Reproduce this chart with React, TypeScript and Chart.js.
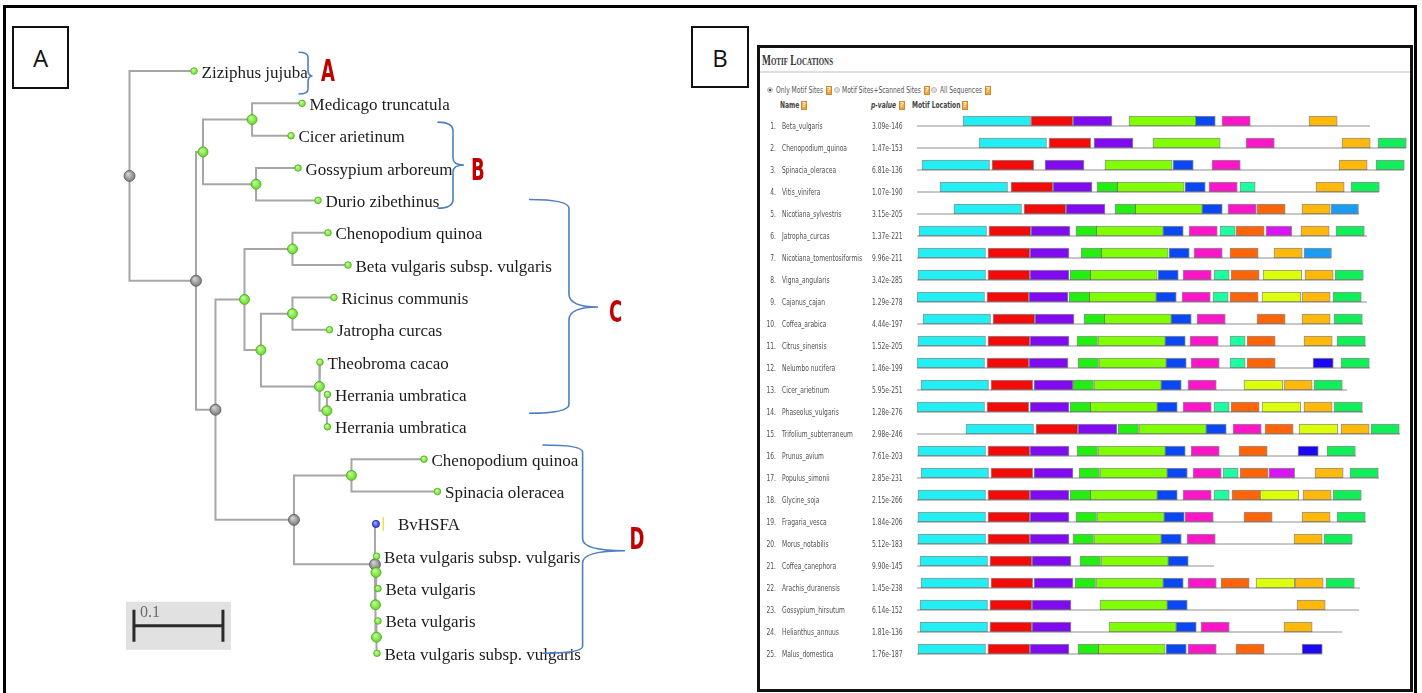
import React, { useEffect, useRef } from "react";
import { Chart, registerables } from "chart.js";
Chart.register(...registerables);

// ================= Panel A : phylogenetic tree =================
const nodeNames = ["", "Ziziphus jujuba", "", "", "", "Medicago truncatula", "Cicer arietinum", "", "Gossypium arboreum", "Durio zibethinus", "", "", "", "Chenopodium quinoa", "Beta vulgaris subsp. vulgaris", "", "", "Ricinus communis", "Jatropha curcas", "", "Theobroma cacao", "", "Herrania umbratica", "Herrania umbratica", "", "", "Chenopodium quinoa", "Spinacia oleracea", "", "BvHSFA", "", "", "Beta vulgaris subsp. vulgaris", "Beta vulgaris", "", "Beta vulgaris", "Beta vulgaris subsp. vulgaris"];
const nodeParents = [-1, 0, 0, 2, 3, 4, 4, 3, 7, 7, 2, 10, 11, 12, 12, 11, 15, 16, 16, 15, 19, 19, 21, 21, 10, 24, 25, 25, 24, 28, 28, 30, 31, 31, 30, 34, 34];
const branchLengths = [0, 0.0725, 0.0747, 0.0079, 0.0551, 0.0562, 0.0438, 0.0596, 0.0472, 0.0697, 0.0219, 0.0326, 0.0539, 0.0399, 0.0624, 0.0185, 0.0354, 0.0466, 0.0416, 0.0657, 0.0006, 0.0084, 0.0006, 0.0006, 0.0882, 0.0646, 0.0815, 0.0966, 0.091, 0.0011, 0.0006, 0.0006, 0.0006, 0.0022, 0.0011, 0.0017, 0.0006];
const greyNodes = [0, 2, 10, 24, 28];
const queryNode = 29;
const scaleBarLength = 0.1;
const scaleBarLabel = "0.1";

// bracketed groups (leaf-index span, tip position)
const groupLetters = ["A", "B", "C", "D"];
const groupFrom = [-0.58, 1.58, 3.97, 11.56];
const groupTo = [0.71, 4.24, 10.58, 18.0];
const groupTip = [0.155, 2.906, 7.295, 14.828];

// brace geometry (annotation styling, tree x units / px)
const braceGeom = [
  { xe: 0.1899, xs: 0.2006, xt: 0.2056, rv: 5, rv2: 6, ldx: 8.5, ldy: -3.5 },
  { xe: 0.3461, xs: 0.3635, xt: 0.3758, rv: 9, rv2: 7, ldx: 7, ldy: 6 },
  { xe: 0.4489, xs: 0.4938, xt: 0.5264, rv: 9, rv2: 13, ldx: 11, ldy: 6.5 },
  { xe: 0.4639, xs: 0.5091, xt: 0.5567, rv: 7, rv2: 12, ldx: 4.5, ldy: -10 },
];

// ================= Panel B : motif locations =================
const rowNames = ["Beta_vulgaris", "Chenopodium_quinoa", "Spinacia_oleracea", "Vitis_vinifera", "Nicotiana_sylvestris", "Jatropha_curcas", "Nicotiana_tomentosiformis", "Vigna_angularis", "Cajanus_cajan", "Coffea_arabica", "Citrus_sinensis", "Nelumbo nucifera", "Cicer_arietinum", "Phaseolus_vulgaris", "Trifolium_subterraneum", "Prunus_avium", "Populus_simonii", "Glycine_soja", "Fragaria_vesca", "Morus_notabilis", "Coffea_canephora", "Arachis_duranensis", "Gossypium_hirsutum", "Helianthus_annuus", "Malus_domestica"];
const pValues = ["3.09e-146", "1.47e-153", "6.81e-136", "1.07e-190", "3.15e-205", "1.37e-221", "9.96e-211", "3.42e-285", "1.29e-278", "4.44e-197", "1.52e-205", "1.46e-199", "5.95e-251", "1.28e-276", "2.98e-246", "7.61e-203", "2.85e-231", "2.15e-266", "1.84e-206", "5.12e-183", "9.90e-145", "1.45e-238", "6.14e-152", "1.81e-136", "1.76e-187"];
const seqLengths = [453, 489, 487, 462, 442, 450, 414, 446, 450, 446, 449, 453, 430, 446, 483, 439, 462, 444, 449, 435, 297, 443, 442, 425, 405];
const xMaxPos = 492;

const motifWidths = [67.5, 41.7, 39, 20.5, 67.2, 20.3, 28.3, 15.2, 28.2, 38.8, 28.2, 28.3, 27.5, 25.7, 20.3];
const _ = null;
const startsCyan = [46, 62, 5, 23, 37, 2, 1, 1, 0, 6, 1, 0, 4, 0, 49, 1, 4, 1, 1, 1, 3, 4, 3, 3, 1];
const startsRed = [114, 132, 75, 94, 107, 72, 71, 71, 70, 76, 71, 70, 74, 70, 119, 71, 74, 71, 71, 71, 73, 74, 73, 73, 71];
const startsPurple = [156, 177, 128, 136, 149, 114, 113, 113, 112, 118, 113, 112, 117, 113, 161, 113, 117, 113, 113, 113, 115, 117, 115, 115, 113];
const startsGreen = [_, _, _, 180, 198, 159, 164, 153, 152, 167, 160, 161, 156, 153, 201, 160, 162, 153, 159, 156, 163, 158, _, _, 161];
const startsLime = [212, 236, 188, 200, 218, 179, 184, 173, 172, 187, 181, 182, 177, 173, 222, 181, 183, 173, 180, 177, 184, 179, 183, 192, 181];
const startsBlue = [278, _, 256, 268, 285, 246, 252, 241, 239, 254, 248, 249, 244, 240, 289, 248, 250, 240, 247, 244, 251, 246, 250, 259, 249];
const startsMagenta = [305, 329, 295, 292, 311, 272, 277, 266, 265, 280, 273, 274, 271, 266, 316, 274, 276, 266, 268, 270, _, 271, _, 284, 271];
const startsAqua = [_, _, _, 323, _, 303, _, 297, 296, _, 313, 313, _, 297, _, _, 306, 297, _, _, _, _, _, _, _];
const startsOrange = [_, _, _, _, 340, 319, 313, 314, 313, 340, 330, 330, _, 314, 348, 322, 323, 315, 327, _, _, 304, _, _, 319];
const startsYellow = [_, _, _, _, _, _, _, 346, 345, _, _, _, 327, 345, 382, _, _, 343, _, _, _, 339, _, _, _];
const startsGold = [392, 425, 422, 399, 385, 384, 357, 388, 385, 385, 387, _, 367, 387, 424, _, 398, 386, 385, 377, _, 378, 380, 367, _];
const startsSpring = [_, 461, 459, 434, _, 419, _, 418, 416, 417, 420, 424, 397, 417, 454, 410, 433, 416, 420, 407, _, 409, _, _, _];
const startsDodger = [_, _, _, _, 414, _, 387, _, _, _, _, _, _, _, _, _, _, _, _, _, _, _, _, _, _];
const startsViolet = [_, _, _, _, _, 349, _, _, _, _, _, _, _, _, _, _, 352, _, _, _, _, _, _, _, _];
const startsNavy = [_, _, _, _, _, _, _, _, _, _, _, 396, _, _, _, 381, _, _, _, _, _, _, _, _, 385];

const motifStarts = [startsCyan, startsRed, startsPurple, startsGreen, startsLime, startsBlue, startsMagenta, startsAqua, startsOrange, startsYellow, startsGold, startsSpring, startsDodger, startsViolet, startsNavy];
const motifColors = ["#22eff4", "#f50a0a", "#800af2", "#22ee10", "#80ff00", "#0a48f5", "#fb16c8", "#1cffa0", "#ff6408", "#ddff0a", "#ffb90a", "#10ee5a", "#1a9cf5", "#d914f5", "#1a08f5"];

// ---------------- tree layout ----------------
function layoutTree() {
  const n = nodeParents.length;
  const children: number[][] = Array.from({ length: n }, () => []);
  nodeParents.forEach((p, i) => { if (p >= 0) children[p].push(i); });
  const xs = new Array(n).fill(0);
  const ys = new Array(n).fill(0);
  let leaf = 0;
  const visit = (i: number) => {
    if (nodeParents[i] >= 0) xs[i] = xs[nodeParents[i]] + branchLengths[i];
    if (children[i].length === 0) { ys[i] = leaf++; return; }
    children[i].forEach(visit);
    const c = children[i];
    ys[i] = (ys[c[0]] + ys[c[c.length - 1]]) / 2;
  };
  visit(0);
  return { children, xs, ys, leafCount: leaf };
}

function sphere(base: string, light: string, r: number) {
  return (c: any) => {
    const chart = c.chart;
    const p = c.parsed;
    if (!p || !chart.scales || !chart.scales.x || !chart.chartArea) return base;
    const x = chart.scales.x.getPixelForValue(p.x);
    const y = chart.scales.y.getPixelForValue(p.y);
    if (!isFinite(x) || !isFinite(y)) return base;
    const g = chart.ctx.createRadialGradient(x - r * 0.3, y - r * 0.4, 0.3, x, y, r);
    g.addColorStop(0, light);
    g.addColorStop(1, base);
    return g;
  };
}

function drawBrace(ctx: CanvasRenderingContext2D, xe: number, xs: number, xt: number, yt: number, ym: number, yb: number, rv: number, rv2: number) {
  ctx.beginPath();
  ctx.moveTo(xe, yt);
  ctx.quadraticCurveTo(xs, yt, xs, yt + rv);
  ctx.lineTo(xs, ym - rv2);
  ctx.quadraticCurveTo(xs, ym, xt, ym);
  ctx.quadraticCurveTo(xs, ym, xs, ym + rv2);
  ctx.lineTo(xs, yb - rv);
  ctx.quadraticCurveTo(xs, yb, xe, yb);
  ctx.stroke();
}

function treeConfig(): any {
  const { children, xs, ys, leafCount } = layoutTree();
  const n = nodeParents.length;
  const internal: number[] = [];
  const leaves: number[] = [];
  for (let i = 0; i < n; i++) (children[i].length ? internal : leaves).push(i);

  const branchSets = internal.map((i) => {
    const c = children[i];
    const a = c[0], b = c[c.length - 1];
    return {
      data: [{ x: xs[a], y: ys[a] }, { x: xs[i], y: ys[a] }, { x: xs[i], y: ys[b] }, { x: xs[b], y: ys[b] }],
      showLine: true, borderColor: "#a6a6a6", borderWidth: 2, pointRadius: 0, tension: 0,
      borderJoinStyle: "miter", order: 5, clip: false,
    };
  });
  const pt = (ids: number[]) => ids.map((i) => ({ x: xs[i], y: ys[i] }));
  const tipIds = leaves.filter((i) => i !== queryNode);
  const greenIds = internal.filter((i) => !greyNodes.includes(i));
  const pointSets = [
    { data: pt([queryNode]), pointRadius: 3.6, backgroundColor: sphere("#2a3cf0", "#9fb0ff", 3.6), borderColor: "#1b2aa8", borderWidth: 0.8, order: 0, clip: false },
    { data: pt(tipIds), pointRadius: 3.3, backgroundColor: sphere("#6fdc2e", "#c8ff9a", 3.3), borderColor: "#4caf22", borderWidth: 0.8, order: 1, clip: false },
    { data: pt(greenIds), pointRadius: 5, backgroundColor: sphere("#62d826", "#c9ff9c", 5), borderColor: "#45a91b", borderWidth: 0.8, order: 1, clip: false },
    { data: pt(greyNodes), pointRadius: 5.5, backgroundColor: sphere("#7e7e7e", "#d6d6d6", 5.5), borderColor: "#555", borderWidth: 0.8, order: 1, clip: false },
  ];

  const treePlugin = {
    id: "treeText",
    afterDatasetsDraw(chart: any) {
      const { ctx } = chart;
      const X = chart.scales.x, Y = chart.scales.y;
      ctx.save();
      // leaf labels
      ctx.font = '17px "Liberation Serif", serif';
      ctx.fillStyle = "#1c1c1c";
      ctx.textAlign = "left";
      ctx.textBaseline = "alphabetic";
      leaves.forEach((i) => {
        const px = X.getPixelForValue(xs[i]);
        const py = Y.getPixelForValue(ys[i]);
        const off = i === queryNode ? 22 : 7.5;
        ctx.fillText(nodeNames[i], px + off, py + 6.5);
        if (i === queryNode) {
          ctx.fillStyle = "#f3dc4a";
          ctx.fillRect(px + 6.5, py - 7, 1.5, 14);
          ctx.fillStyle = "#1c1c1c";
        }
      });
      // braces and group letters
      groupLetters.forEach((L, k) => {
        const g = braceGeom[k];
        const yt = Y.getPixelForValue(groupFrom[k]);
        const yb = Y.getPixelForValue(groupTo[k]);
        const ym = Y.getPixelForValue(groupTip[k]);
        const xe = X.getPixelForValue(g.xe), xsp = X.getPixelForValue(g.xs), xt = X.getPixelForValue(g.xt);
        ctx.strokeStyle = "#4f7fbf";
        ctx.lineWidth = 1.6;
        drawBrace(ctx, xe, xsp, xt, yt, ym, yb, g.rv, g.rv2);
        ctx.save();
        ctx.translate(xt + g.ldx, ym + g.ldy);
        ctx.scale(0.6, 1);
        ctx.font = 'bold 30px "DejaVu Sans", sans-serif';
        ctx.fillStyle = "#c00000";
        ctx.textBaseline = "middle";
        ctx.textAlign = "left";
        ctx.fillText(L, 0, 1);
        ctx.restore();
      });
      // scale bar
      const bx0 = X.getPixelForValue(0.005);
      const bx1 = X.getPixelForValue(0.005 + scaleBarLength);
      const by = Y.getPixelForValue(leafCount - 1 - 0.85);
      ctx.fillStyle = "#e1e1e1";
      ctx.fillRect(bx0 - 8, by - 24, bx1 - bx0 + 16, 48);
      ctx.strokeStyle = "#2a2a2a";
      ctx.lineWidth = 3;
      ctx.beginPath();
      ctx.moveTo(bx0, by); ctx.lineTo(bx1, by);
      ctx.moveTo(bx0, by - 16); ctx.lineTo(bx0, by + 16);
      ctx.moveTo(bx1, by - 16); ctx.lineTo(bx1, by + 16);
      ctx.stroke();
      ctx.font = '16px "Liberation Serif", serif';
      ctx.fillStyle = "#6a6a6a";
      ctx.textBaseline = "middle";
      ctx.fillText(scaleBarLabel, bx0 + 6, by - 13);
      ctx.restore();
    },
  };

  return {
    type: "scatter",
    data: { datasets: [...pointSets, ...branchSets] },
    options: {
      responsive: false, animation: false, devicePixelRatio: 1,
      layout: { padding: { left: 129.5, right: 115.5, top: 71, bottom: 39.7 } },
      plugins: { legend: { display: false }, tooltip: { enabled: false } },
      events: [],
      scales: {
        x: { type: "linear", min: 0, max: 0.5, display: false },
        y: { type: "linear", min: 0, max: leafCount - 1, reverse: true, display: false },
      },
    },
    plugins: [treePlugin],
  };
}

function motifConfig(): any {
  const datasets = motifStarts.map((arr, m) => ({
    data: arr.map((s) => (s == null ? null : [s, s + motifWidths[m]])),
    backgroundColor: motifColors[m],
    borderColor: "rgba(55,55,55,0.55)",
    borderWidth: 1,
    borderSkipped: false,
    barThickness: 10,
    grouped: false,
  }));
  const labelsPlugin = {
    id: "motifRows",
    beforeDatasetsDraw(chart: any) {
      const { ctx } = chart;
      const X = chart.scales.x, Y = chart.scales.y;
      ctx.save();
      ctx.strokeStyle = "#c8c8c8";
      ctx.lineWidth = 2;
      seqLengths.forEach((len, i) => {
        const y = Y.getPixelForValue(i) + 5;
        ctx.beginPath();
        ctx.moveTo(X.getPixelForValue(0), y);
        ctx.lineTo(X.getPixelForValue(len), y);
        ctx.stroke();
      });
      ctx.restore();
    },
    afterDraw(chart: any) {
      const { ctx, chartArea } = chart;
      const Y = chart.scales.y;
      const L = chartArea.left;
      ctx.save();
      ctx.font = '9.5px "DejaVu Sans", sans-serif';
      ctx.fillStyle = "#505050";
      ctx.textBaseline = "middle";
      const put = (t: string, x: number, y: number, align: CanvasTextAlign) => {
        ctx.save();
        ctx.translate(x, y);
        ctx.scale(0.63, 1);
        ctx.textAlign = align;
        ctx.fillText(t, 0, 0);
        ctx.restore();
      };
      rowNames.forEach((name, i) => {
        const y = Y.getPixelForValue(i) + 5.5;
        put(`${i + 1}.`, L - 141, y, "right");
        put(name, L - 135, y, "left");
        put(pValues[i], L - 45, y, "left");
      });
      ctx.restore();
    },
  };
  return {
    type: "bar",
    data: { labels: rowNames, datasets },
    options: {
      indexAxis: "y",
      responsive: false, animation: false, devicePixelRatio: 1,
      layout: { padding: { left: 157, right: 1, top: 0, bottom: 0 } },
      plugins: { legend: { display: false }, tooltip: { enabled: false } },
      events: [],
      scales: {
        x: { type: "linear", min: 0, max: xMaxPos, display: false },
        y: { type: "category", display: false },
      },
    },
    plugins: [labelsPlugin],
  };
}

// ---------------- small HTML helpers ----------------
type TP = { x: number; y: number; text: string; size?: number; bold?: boolean; italic?: boolean; sx?: number; color?: string; family?: string; caps?: boolean };
const T = ({ x, y, text, size = 9.5, bold = false, italic = false, sx = 0.63, color = "#555", family = '"DejaVu Sans", sans-serif', caps = false }: TP) => (
  <div style={{ position: "absolute", left: x, top: y - size * 0.6, fontFamily: family, fontSize: size, lineHeight: `${size * 1.2}px`, fontWeight: bold ? 700 : 400, fontStyle: italic ? "italic" : "normal", fontVariant: caps ? "small-caps" : "normal", color, whiteSpace: "nowrap", transform: `scaleX(${sx})`, transformOrigin: "0 50%" }}>{text}</div>
);
const Q = ({ x, y }: { x: number; y: number }) => (
  <div style={{ position: "absolute", left: x, top: y - 4.5, width: 6, height: 9, background: "#f2a43e", border: "1px solid #d4892a", boxSizing: "border-box", color: "#fff6e0", fontSize: 7, lineHeight: "7px", textAlign: "center", fontFamily: '"DejaVu Sans", sans-serif', fontWeight: 700, overflow: "hidden" }}>?</div>
);
const R = ({ x, y, on }: { x: number; y: number; on?: boolean }) => (
  <div style={{ position: "absolute", left: x - 3, top: y - 3, width: 6, height: 6, borderRadius: "50%", background: on ? "radial-gradient(circle, #555 0 35%, #d8d8d8 50%)" : "#e3e3e3", border: "1px solid #b8b8b8", boxSizing: "border-box" }} />
);

export default function App() {
  const treeRef = useRef<HTMLCanvasElement>(null);
  const motifRef = useRef<HTMLCanvasElement>(null);
  useEffect(() => {
    const a = new Chart(treeRef.current as HTMLCanvasElement, treeConfig());
    const b = new Chart(motifRef.current as HTMLCanvasElement, motifConfig());
    return () => { a.destroy(); b.destroy(); };
  }, []);

  return (
    <div style={{ position: "fixed", left: 0, top: 0, width: 1422, height: 693, background: "#fff", overflow: "hidden" }}>
      {/* outer frame */}
      <div style={{ position: "absolute", left: 3, top: 5, width: 1414, height: 720, border: "3px solid #000", boxSizing: "border-box" }} />
      {/* panel labels */}
      <div style={{ position: "absolute", left: 12, top: 26, width: 57, height: 63, border: "2px solid #111", boxSizing: "border-box", display: "flex", alignItems: "center", justifyContent: "center", fontFamily: '"Open Sans", sans-serif', fontSize: 24, color: "#111" }}>A</div>
      <div style={{ position: "absolute", left: 691, top: 26, width: 58, height: 62, border: "2px solid #111", boxSizing: "border-box", display: "flex", alignItems: "center", justifyContent: "center", fontFamily: '"Open Sans", sans-serif', fontSize: 24, color: "#111" }}>B</div>

      <canvas ref={treeRef} width={690} height={693} style={{ position: "absolute", left: 0, top: 0 }} />

      {/* panel B frame and header */}
      <div style={{ position: "absolute", left: 757, top: 45, width: 656, height: 647, border: "3px solid #111", boxSizing: "border-box" }} />
      <T x={762} y={60} text="Motif Locations" size={15} bold caps sx={0.63} color="#333" family='"Liberation Serif", serif' />
      <div style={{ position: "absolute", left: 760, top: 71, width: 650, height: 2, background: "#dedede" }} />

      <R x={770} y={90} on />
      <T x={776} y={90} text="Only Motif Sites" />
      <Q x={826} y={90} />
      <R x={837} y={90} />
      <T x={842} y={90} text="Motif Sites+Scanned Sites" />
      <Q x={924} y={90} />
      <R x={934} y={90} />
      <T x={940} y={90} text="All Sequences" />
      <Q x={985} y={90} />

      <T x={780} y={105} text="Name" bold color="#444" />
      <Q x={801} y={105} />
      <T x={871} y={105} text="p-value" bold italic color="#444" />
      <Q x={899} y={105} />
      <T x={912} y={105} text="Motif Location" bold color="#444" />
      <Q x={962} y={105} />

      <canvas ref={motifRef} width={650} height={550} style={{ position: "absolute", left: 760, top: 110 }} />
    </div>
  );
}
